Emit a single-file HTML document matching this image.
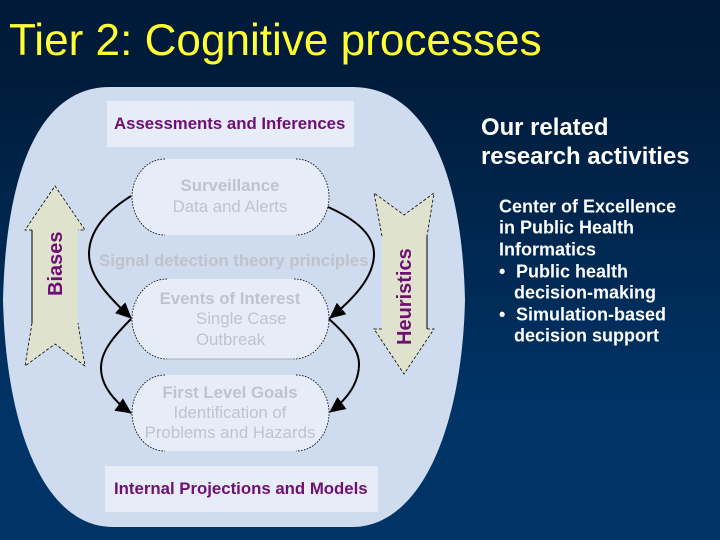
<!DOCTYPE html>
<html><head><meta charset="utf-8"><style>
html,body{margin:0;padding:0;width:720px;height:540px;overflow:hidden;background:#003366}
svg{display:block}
text{font-family:"Liberation Sans",sans-serif}
.h{font-weight:bold;font-size:16.8px;fill:#6f0f74}
.g{font-size:16.8px;fill:#c0c3cb;text-anchor:middle}
.gb{font-size:16.8px;font-weight:bold;fill:#c0c3cb;text-anchor:middle}
.w{font-weight:bold;font-size:18px;fill:#fff}
.d{fill:none;stroke:#000;stroke-width:.8;stroke-dasharray:3 2}
.dd{fill:none;stroke:#000;stroke-width:.8;stroke-dasharray:1.6 1.4}
</style></head><body>
<svg width="720" height="540" viewBox="0 0 720 540" xmlns="http://www.w3.org/2000/svg">
<defs><linearGradient id="bg" x1="0" y1="0" x2="0" y2="1">
<stop offset="0" stop-color="#001a38"/><stop offset=".15" stop-color="#001c3b"/><stop offset=".75" stop-color="#003366"/><stop offset="1" stop-color="#003366"/></linearGradient>
<marker id="a" markerWidth="17" markerHeight="15" refX="15" refY="7.5" orient="auto" markerUnits="userSpaceOnUse"><path d="M0 0L16 7.5L0 15z" fill="#000"/></marker></defs>
<rect width="720" height="540" fill="url(#bg)"/>
<text x="9" y="55" font-size="44.1" fill="#ffff33">Tier 2: Cognitive processes</text>
<path d="M110 87H352C425 87 462 170 465 300C462 430 420 527 352 527H113C45 527 6 430 3 300C6 170 40 87 110 87Z" fill="#cfdbee"/>
<rect x="107" y="101" width="247" height="46" fill="#e7edf8"/>
<rect x="105" y="466" width="273" height="46" fill="#e7edf8"/>
<g fill="#e7edf8">
<rect x="132" y="159" width="197" height="76" rx="35" ry="38"/>
<rect x="132" y="279" width="197" height="80" rx="35" ry="40"/>
<rect x="132" y="375" width="197" height="76" rx="35" ry="38"/>
</g>
<g class="dd">
<path class="dd" d="M165 159C145 159 132 178 132 197C132 216 145 235 165 235"/>
<path class="dd" d="M296 159C316 159 329 178 329 197C329 216 316 235 296 235"/>
<path class="dd" d="M167 279C147 279 132 298 132 319C132 340 147 359 167 359"/>
<path class="dd" d="M294 279C314 279 329 298 329 319C329 340 314 359 294 359"/>
<path class="dd" d="M165 375C145 375 132 394 132 413C132 432 145 451 165 451"/>
<path class="dd" d="M296 375C316 375 329 394 329 413C329 432 316 451 296 451"/>
</g>
<path d="M167 359H294" stroke="#a9adb6" stroke-width="1" fill="none"/>
<path d="M55 186L85 230H78V323L85 366L55 344L25 366L32 323V230H25Z" fill="#dfe3cd"/>
<path d="M32 323V230" fill="none" stroke="#000" stroke-width="1"/>
<path class="d" d="M32 230H25L55 186L85 230H78"/>
<path class="d" d="M32 323L25 366L55 344L85 366L78 323"/>
<path d="M374 193L404 215L434 193L427 236V329H434L404 374L374 329H382V236Z" fill="#dfe3cd"/>
<path class="d" d="M382 236L374 193L404 215L434 193L427 236"/>
<path d="M427 236V329" fill="none" stroke="#000" stroke-width="1"/>
<path class="d" d="M427 329H434L404 374L374 329H382"/>
<g fill="none" stroke="#000" stroke-width="2">
<path d="M131 196C105 212 89 232 89 254C89 278 112 300 131 318" marker-end="url(#a)"/>
<path d="M131 319C112 338 101 352 101 368C101 386 115 402 131 413" marker-end="url(#a)"/>
<path d="M328 207C355 219 374 234 374 254C374 278 352 300 330 318" marker-end="url(#a)"/>
<path d="M329 319C348 336 359 350 359 364C359 384 346 400 330 412" marker-end="url(#a)"/>
</g>
<text class="h" x="114" y="129">Assessments and Inferences</text>
<text class="h" x="114" y="494">Internal Projections and Models</text>
<text class="gb" x="230" y="191">Surveillance</text>
<text class="g" x="230" y="212">Data and Alerts</text>
<text class="gb" x="99" y="266" style="text-anchor:start">Signal detection theory principles</text>
<text class="gb" x="230" y="304">Events of Interest</text>
<text class="g" x="196" y="324" style="text-anchor:start">Single Case</text>
<text class="g" x="196" y="345" style="text-anchor:start">Outbreak</text>
<text class="gb" x="230" y="398">First Level Goals</text>
<text class="g" x="230" y="418">Identification of</text>
<text class="g" x="230" y="438">Problems and Hazards</text>
<text class="h" style="font-size:20px" transform="translate(62,296) rotate(-90)">Biases</text>
<text class="h" style="font-size:20px" transform="translate(411,345) rotate(-90)">Heuristics</text>
<text x="481" y="135" style="font-size:23.9px;font-weight:bold" fill="#fff">Our related</text>
<text x="481" y="164" style="font-size:23.9px;font-weight:bold" fill="#fff">research activities</text>
<text class="w" x="499" y="212.5">Center of Excellence</text>
<text class="w" x="499" y="233.5">in Public Health</text>
<text class="w" x="499" y="255.5">Informatics</text>
<text class="w" x="499" y="277.5">•</text><text class="w" x="516" y="277.5">Public health</text>
<text class="w" x="514" y="298.5">decision-making</text>
<text class="w" x="499" y="320.5">•</text><text class="w" x="516" y="320.5">Simulation-based</text>
<text class="w" x="514" y="341.5">decision support</text>
</svg>
</body></html>
